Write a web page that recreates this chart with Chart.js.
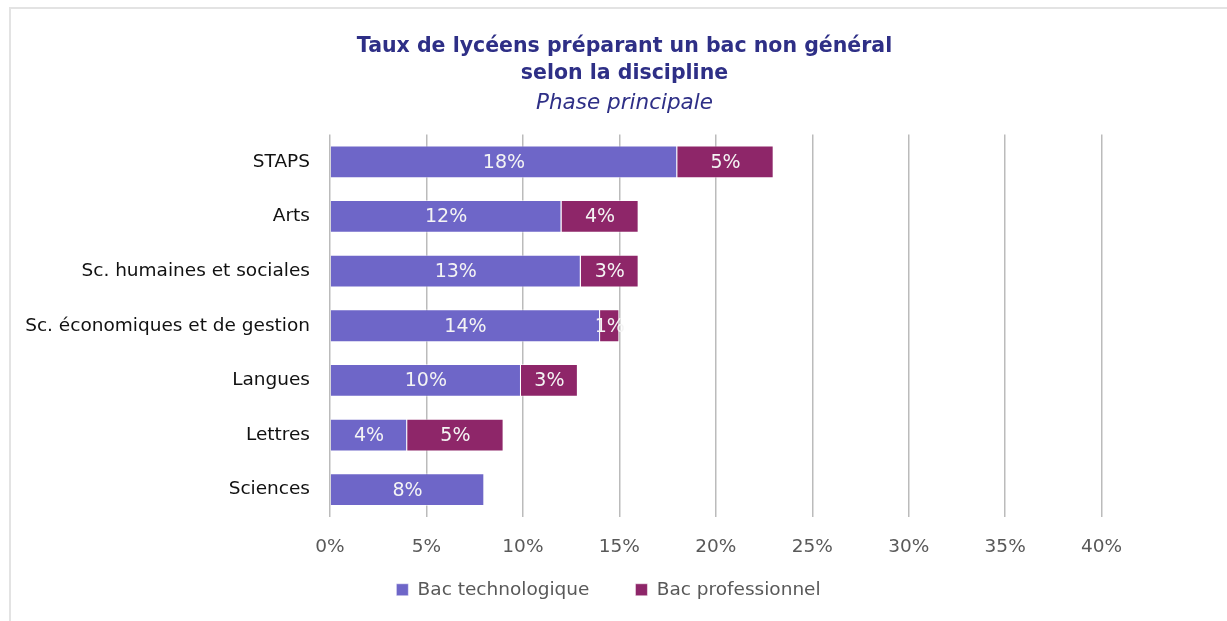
<!DOCTYPE html>
<html>
<head>
<meta charset="utf-8">
<script src="https://cdn.jsdelivr.net/npm/chart.js@4"></script>
<style>
  html, body { margin: 0; padding: 0; background: #fff; overflow: hidden; }
  #frame { position: absolute; left: 9px; top: 7px; width: 1400px; height: 800px; border: 2px solid #e3e3e3; box-sizing: border-box; }
  #wrap { position: absolute; left: 0; top: 0; width: 1227px; height: 621px; }
</style>
</head>
<body>
<div id="frame"></div>
<div id="wrap"><canvas id="myChart"></canvas></div>
<script>
const categories = ['STAPS', 'Arts', 'Sc. humaines et sociales', 'Sc. économiques et de gestion', 'Langues', 'Lettres', 'Sciences'];
const bacTechno = [18, 12, 13, 14, 9.9, 4, 8];
const bacPro = [5, 4, 3, 1, 2.95, 5, null];
const xTicks = [0, 5, 10, 15, 20, 25, 30, 35, 40];

// draw the % inside each bar
const barLabels = {
    id: 'barLabels',
    afterDatasetsDraw(chart) {
        const ctx = chart.ctx;
        ctx.save();
        ctx.font = '19px "DejaVu Sans"';
        ctx.fillStyle = '#f4f4f4';
        ctx.textAlign = 'center';
        ctx.textBaseline = 'middle';
        chart.data.datasets.forEach((ds, i) => {
            chart.getDatasetMeta(i).data.forEach((bar, j) => {
                const v = ds.data[j];
                if (!v) return;
                const p = bar.getProps(['x', 'y', 'base'], true);
                ctx.fillText(Math.round(v) + '%', (p.x + p.base) / 2, p.y + 1);
            });
        });
        ctx.restore();
    }
};

// nudge the legend a bit to the left, like in the original
const legendShift = {
    id: 'legendShift',
    afterLayout(chart) {
        chart.legend.left -= 16;
        chart.legend.right -= 16;
    }
};

const ctx = document.getElementById('myChart').getContext('2d');
const myChart = new Chart(ctx, {
    type: 'bar',
    data: {
        labels: categories,
        datasets: [{
            label: 'Bac technologique',
            data: bacTechno,
            backgroundColor: '#6e66c8',
            borderColor: 'rgba(255,255,255,0.5)',
            borderWidth: 1,
            barPercentage: 0.6,
            categoryPercentage: 1
        }, {
            label: 'Bac professionnel',
            data: bacPro,
            backgroundColor: '#8e2669',
            borderColor: 'rgba(255,255,255,0.5)',
            borderWidth: 1,
            barPercentage: 0.6,
            categoryPercentage: 1
        }]
    },
    options: {
        indexAxis: 'y',
        responsive: true,
        maintainAspectRatio: false,
        animation: false,
        layout: { padding: { left: 22, right: 0, top: 0, bottom: 12 } },
        plugins: {
            title: {
                display: true,
                text: ['Taux de lycéens préparant un bac non général', 'selon la discipline'],
                color: '#2e2f86',
                font: { family: '"DejaVu Sans"', size: 20.5, weight: 'bold', lineHeight: 1.32 },
                padding: { top: 33.5, bottom: 2 }
            },
            subtitle: {
                display: true,
                text: 'Phase principale',
                color: '#2e2f86',
                font: { family: '"DejaVu Sans"', size: 21.5, style: 'italic', lineHeight: 1.25 },
                padding: { top: 0, bottom: 18 }
            },
            legend: {
                position: 'bottom',
                labels: {
                    color: '#595959',
                    font: { family: '"DejaVu Sans"', size: 18.5 },
                    boxWidth: 12,
                    boxHeight: 12,
                    padding: 46
                }
            },
            tooltip: { enabled: false }
        },
        scales: {
            x: {
                stacked: true,
                min: 0,
                max: 46.5, // room on the right so that 40% sits where it does in the original
                afterBuildTicks: function(scale) {
                    scale.ticks = xTicks.map(v => ({ value: v }));
                },
                afterFit: function(scale) {
                    scale.height = 17.5;
                    scale._computeLabelArea = () => undefined; // labels go below the shrunk box
                },
                ticks: {
                    color: '#595959',
                    font: { family: '"DejaVu Sans"', size: 18.5 },
                    padding: 19,
                    callback: function(value) {
                        return value + '%';
                    }
                },
                grid: { color: '#bbbbbb', lineWidth: 1.5, drawTicks: false },
                border: { display: false }
            },
            y: {
                stacked: true,
                afterFit: function(scale) { scale.width = 308; },
                ticks: {
                    color: '#111',
                    font: { family: '"DejaVu Sans"', size: 18.5 },
                    padding: 12
                },
                grid: { display: false },
                border: { display: false }
            }
        }
    },
    plugins: [barLabels, legendShift]
});
</script>
</body>
</html>
